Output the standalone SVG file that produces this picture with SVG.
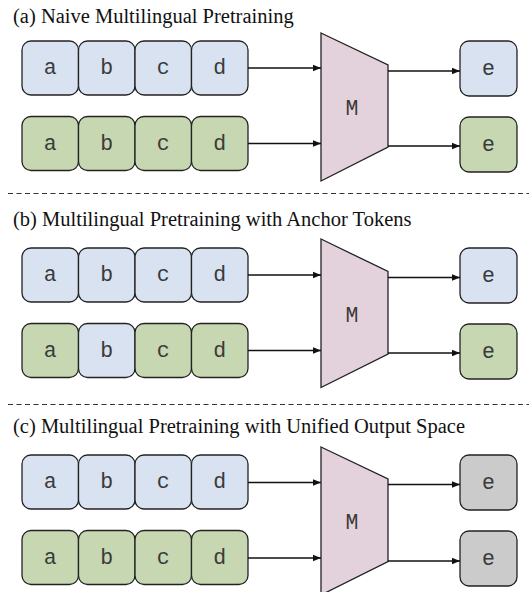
<svg xmlns="http://www.w3.org/2000/svg" width="529" height="592" viewBox="0 0 529 592">
<defs>
<style>
.t{font-family:"Liberation Serif","Times New Roman",serif;font-size:20.5px;fill:#111}
.k{font-family:"Liberation Mono","Courier New",monospace;font-size:21.5px;fill:#3a3a3a;text-anchor:middle;dominant-baseline:central}
.box{stroke:#222;stroke-width:1.3}
.blue{fill:#d8e2f1}
.green{fill:#c6d7b1}
.gray{fill:#cbcbcb}
.trap{fill:#e3d1dc;stroke:#222;stroke-width:1.3}
.arr{stroke:#111;stroke-width:1.3;fill:none;marker-end:url(#ah)}
.dash{stroke:#333;stroke-width:1.2;stroke-dasharray:5 3.5}
</style>
<marker id="ah" viewBox="0 0 10 10" refX="10" refY="5" markerWidth="8" markerHeight="8" markerUnits="userSpaceOnUse" orient="auto"><path d="M0,1 L10,5 L0,9 Z" fill="#111"/></marker>
</defs>
<rect width="529" height="592" fill="#fff"/>

<g id="sec-a">
<text class="t" x="13" y="23">(a) Naive Multilingual Pretraining</text>
<g id="a-top">
<rect class="box blue" x="22" y="41" width="56.5" height="54" rx="9"/><text class="k" x="50.2" y="68">a</text>
<rect class="box blue" x="78.5" y="41" width="56.5" height="54" rx="9"/><text class="k" x="106.7" y="68">b</text>
<rect class="box blue" x="135" y="41" width="56.5" height="54" rx="9"/><text class="k" x="163.2" y="68">c</text>
<rect class="box blue" x="191.5" y="41" width="56.5" height="54" rx="9"/><text class="k" x="219.7" y="68">d</text>
</g>
<g id="a-bot">
<rect class="box green" x="22" y="116.5" width="56.5" height="54" rx="9"/><text class="k" x="50.2" y="143.5">a</text>
<rect class="box green" x="78.5" y="116.5" width="56.5" height="54" rx="9"/><text class="k" x="106.7" y="143.5">b</text>
<rect class="box green" x="135" y="116.5" width="56.5" height="54" rx="9"/><text class="k" x="163.2" y="143.5">c</text>
<rect class="box green" x="191.5" y="116.5" width="56.5" height="54" rx="9"/><text class="k" x="219.7" y="143.5">d</text>
</g>
<g id="a-M"><path class="trap" d="M321,33 L388,65 L388,147 L321,181 Z"/><text class="k" x="352" y="109">M</text></g>
<g id="a-e1"><rect class="box blue" x="460" y="41" width="57" height="55" rx="9"/><text class="k" x="488.5" y="68.5">e</text></g>
<g id="a-e2"><rect class="box green" x="460" y="117" width="57" height="55" rx="9"/><text class="k" x="488.5" y="144.5">e</text></g>
</g>

<line class="dash" x1="8" y1="193.5" x2="529" y2="193.5"/>

<g id="sec-b">
<text class="t" x="13" y="226">(b) Multilingual Pretraining with Anchor Tokens</text>
<g id="b-top">
<rect class="box blue" x="22" y="248" width="56.5" height="54" rx="9"/><text class="k" x="50.2" y="275">a</text>
<rect class="box blue" x="78.5" y="248" width="56.5" height="54" rx="9"/><text class="k" x="106.7" y="275">b</text>
<rect class="box blue" x="135" y="248" width="56.5" height="54" rx="9"/><text class="k" x="163.2" y="275">c</text>
<rect class="box blue" x="191.5" y="248" width="56.5" height="54" rx="9"/><text class="k" x="219.7" y="275">d</text>
</g>
<g id="b-bot">
<rect class="box green" x="22" y="323.5" width="56.5" height="54" rx="9"/><text class="k" x="50.2" y="350.5">a</text>
<rect class="box blue" x="78.5" y="323.5" width="56.5" height="54" rx="9"/><text class="k" x="106.7" y="350.5">b</text>
<rect class="box green" x="135" y="323.5" width="56.5" height="54" rx="9"/><text class="k" x="163.2" y="350.5">c</text>
<rect class="box green" x="191.5" y="323.5" width="56.5" height="54" rx="9"/><text class="k" x="219.7" y="350.5">d</text>
</g>
<g id="b-M"><path class="trap" d="M321,239 L388,271.5 L388,354 L321,387.5 Z"/><text class="k" x="352" y="316">M</text></g>
<g id="b-e1"><rect class="box blue" x="460" y="248" width="57" height="55" rx="9"/><text class="k" x="488.5" y="275.5">e</text></g>
<g id="b-e2"><rect class="box green" x="460" y="324" width="57" height="55" rx="9"/><text class="k" x="488.5" y="351.5">e</text></g>
</g>

<line class="dash" x1="8" y1="404.5" x2="529" y2="404.5"/>

<g id="sec-c">
<text class="t" x="13" y="433">(c) Multilingual Pretraining with Unified Output Space</text>
<g id="c-top">
<rect class="box blue" x="22" y="455" width="56.5" height="54" rx="9"/><text class="k" x="50.2" y="482">a</text>
<rect class="box blue" x="78.5" y="455" width="56.5" height="54" rx="9"/><text class="k" x="106.7" y="482">b</text>
<rect class="box blue" x="135" y="455" width="56.5" height="54" rx="9"/><text class="k" x="163.2" y="482">c</text>
<rect class="box blue" x="191.5" y="455" width="56.5" height="54" rx="9"/><text class="k" x="219.7" y="482">d</text>
</g>
<g id="c-bot">
<rect class="box green" x="22" y="530.5" width="56.5" height="54" rx="9"/><text class="k" x="50.2" y="557.5">a</text>
<rect class="box green" x="78.5" y="530.5" width="56.5" height="54" rx="9"/><text class="k" x="106.7" y="557.5">b</text>
<rect class="box green" x="135" y="530.5" width="56.5" height="54" rx="9"/><text class="k" x="163.2" y="557.5">c</text>
<rect class="box green" x="191.5" y="530.5" width="56.5" height="54" rx="9"/><text class="k" x="219.7" y="557.5">d</text>
</g>
<g id="c-M"><path class="trap" d="M321,447 L388,479 L388,561.5 L321,595 Z"/><text class="k" x="352" y="523">M</text></g>
<g id="c-e1"><rect class="box gray" x="460" y="455" width="57" height="55" rx="9"/><text class="k" x="488.5" y="482.5">e</text></g>
<g id="c-e2"><rect class="box gray" x="460" y="531" width="57" height="55" rx="9"/><text class="k" x="488.5" y="558.5">e</text></g>
</g>

<g id="connectors">
<line class="arr" x1="248" y1="68" x2="321" y2="68"/>
<line class="arr" x1="248" y1="143.5" x2="321" y2="143.5"/>
<line class="arr" x1="388" y1="71" x2="460" y2="71"/>
<line class="arr" x1="388" y1="146" x2="460" y2="146"/>
<line class="arr" x1="248" y1="275" x2="321" y2="275"/>
<line class="arr" x1="248" y1="350.5" x2="321" y2="350.5"/>
<line class="arr" x1="388" y1="277.5" x2="460" y2="277.5"/>
<line class="arr" x1="388" y1="353" x2="460" y2="353"/>
<line class="arr" x1="248" y1="482.5" x2="321" y2="482.5"/>
<line class="arr" x1="248" y1="558" x2="321" y2="558"/>
<line class="arr" x1="388" y1="484.5" x2="460" y2="484.5"/>
<line class="arr" x1="388" y1="561" x2="460" y2="561"/>
</g>
</svg>
